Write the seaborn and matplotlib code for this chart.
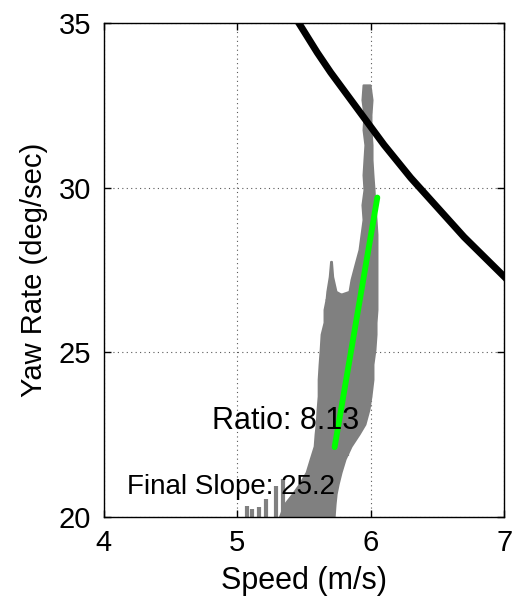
#!/usr/bin/env python3
"""Yaw rate vs. speed with fitted slope and limit curve."""

import matplotlib
matplotlib.use("Agg")
import matplotlib.pyplot as plt
import pandas as pd
import seaborn as sns

# measured trace envelope (speed m/s at each yaw-rate level)
trace_yaw = [33.12, 32.67, 32.21, 31.76, 31.30, 30.85, 30.39, 29.94, 29.48, 29.03,
             28.58, 28.12, 27.67, 27.21, 26.85, 26.61, 26.30, 25.91, 25.55, 25.09,
             24.64, 24.18, 23.67, 23.27, 22.82, 22.52, 22.15, 21.76, 21.36, 21.00,
             20.70, 20.39, 20.0]
trace_left = [5.943, 5.935, 5.950, 5.943, 5.957, 5.950, 5.943, 5.950, 5.935, 5.943,
              5.928, 5.913, 5.883, 5.853, 5.838, 5.666, 5.651, 5.651, 5.629, 5.622,
              5.614, 5.607, 5.607, 5.599, 5.592, 5.584, 5.577, 5.547, 5.517, 5.465,
              5.413, 5.353, 5.316]
trace_right = [5.995, 6.010, 6.002, 6.002, 6.010, 6.010, 6.017, 6.025, 6.032, 6.040,
               6.047, 6.047, 6.047, 6.047, 6.047, 6.047, 6.047, 6.040, 6.040, 6.032,
               6.017, 6.017, 6.002, 5.987, 5.957, 5.913, 5.853, 5.808, 5.778, 5.756,
               5.741, 5.733, 5.726]

# upper excursion left of the main band
hook_yaw = [27.76, 27.3, 26.85, 26.6]
hook_left = [5.700, 5.690, 5.672, 5.666]
hook_right = [5.706, 5.715, 5.740, 5.850]

# isolated excursions of the trace (speed, low / peak yaw rate)
spike_speed = [5.070, 5.114, 5.167, 5.219, 5.294, 5.345, 5.820]
spike_base = [20.0, 20.0, 20.0, 20.0, 20.0, 20.0, 21.85]
spike_top = [20.33, 20.24, 20.30, 20.55, 20.94, 21.15, 22.60]

# least-squares fit
fit_speed = [5.73, 6.05]
fit_yaw = [22.12, 29.7]

# limit curve
limit_speed = [5.40, 5.50, 5.60, 5.70, 5.80, 5.90, 6.00, 6.10, 6.20, 6.30, 6.40,
               6.50, 6.60, 6.70, 6.80, 6.90, 7.00, 7.05]
limit_yaw = [35.40, 34.75, 34.10, 33.50, 32.95, 32.40, 31.85, 31.30, 30.80, 30.30,
             29.85, 29.40, 28.95, 28.50, 28.10, 27.70, 27.30, 27.10]

ratio_text = "Ratio: 8.13"
slope_text = "Final Slope: 25.2"

sns.set_style("white")
plt.rcParams["font.family"] = ["Liberation Sans", "DejaVu Sans"]
plt.rcParams["text.color"] = "black"
plt.rcParams["axes.labelcolor"] = "black"

fig = plt.figure(figsize=(5.16, 6.08), dpi=100)
ax = fig.add_axes([0.201, 0.1497, 0.776, 0.8125])

gray = "#808080"
ax.fill_betweenx(trace_yaw, trace_left, trace_right, color=gray, lw=1.5,
                 edgecolor=gray, zorder=2)
ax.fill_betweenx(hook_yaw, hook_left, hook_right, color=gray, lw=1.5,
                 edgecolor=gray, zorder=2)
ax.vlines(spike_speed, spike_base, spike_top, color=gray, lw=3, zorder=2)

fit_df = pd.DataFrame({"speed": fit_speed, "yaw": fit_yaw})
sns.lineplot(data=fit_df, x="speed", y="yaw", color="#00ff00", lw=4.2,
             sort=False, estimator=None, ax=ax, zorder=3)

limit_df = pd.DataFrame({"speed": limit_speed, "yaw": limit_yaw})
sns.lineplot(data=limit_df, x="speed", y="yaw", color="black", lw=5,
             sort=False, estimator=None, ax=ax, zorder=4)

ax.text(4.808, 22.67, ratio_text, fontsize=22, ha="left", va="baseline", zorder=5)
ax.text(4.174, 20.70, slope_text, fontsize=20, ha="left", va="baseline", zorder=5)

ax.set_xlim(4, 7)
ax.set_ylim(20, 35)
ax.set_xticks([4, 5, 6, 7])
ax.set_yticks([20, 25, 30, 35])
ax.grid(True, color="0.35", linestyle=(0, (1, 3)), lw=0.8)
ax.tick_params(direction="in", length=5, width=1, labelsize=21, pad=9,
               top=True, right=True, bottom=True, left=True, colors="black")
for side in ax.spines.values():
    side.set_color("black")
    side.set_linewidth(1)
ax.set_xlabel("Speed (m/s)", fontsize=22, labelpad=6)
ax.set_ylabel("Yaw Rate (deg/sec)", fontsize=21, labelpad=8)

fig.savefig("out.png", dpi=100)
